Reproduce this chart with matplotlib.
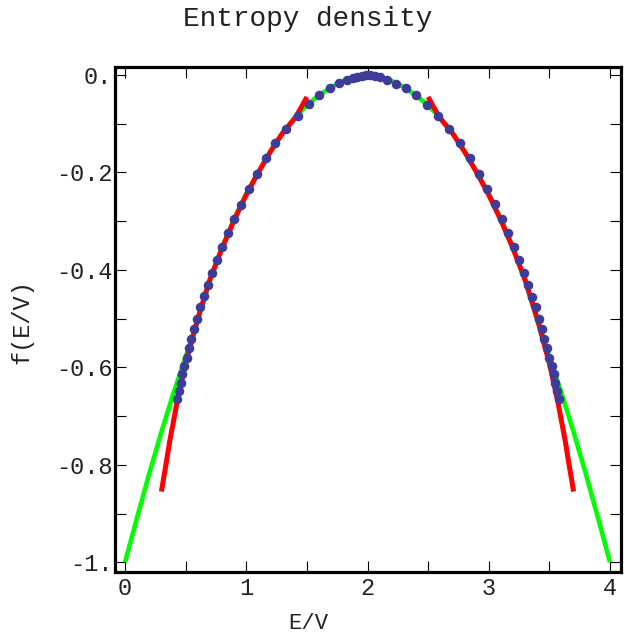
import matplotlib
matplotlib.use("Agg")
from matplotlib import pyplot as plt

# green curve
green_x = [0.0, 0.1, 0.2, 0.3, 0.4, 0.5, 0.6, 0.7, 0.8, 0.9, 1.0, 1.1, 1.2, 1.3, 1.4,
           1.5, 1.6, 1.7, 1.8, 1.9, 2.0, 2.1, 2.2, 2.3, 2.4, 2.5, 2.6, 2.7, 2.8, 2.9,
           3.0, 3.1, 3.2, 3.3, 3.4, 3.5, 3.6, 3.7, 3.8, 3.9, 4.0]
green_y = [-1.0, -0.908, -0.818, -0.733, -0.653, -0.578, -0.503, -0.423, -0.354, -0.296,
           -0.244, -0.199, -0.157, -0.119, -0.088, -0.062, -0.042, -0.025, -0.012, -0.004,
           0.0, -0.004, -0.012, -0.025, -0.042, -0.062, -0.088, -0.119, -0.157, -0.199,
           -0.244, -0.296, -0.354, -0.423, -0.503, -0.578, -0.653, -0.733, -0.818, -0.908, -1.0]

# red curve, two pieces
red_left_x = [0.30, 0.33, 0.37, 0.43, 0.5, 0.6, 0.7, 0.8, 0.9, 1.0, 1.1, 1.2, 1.3, 1.4, 1.45, 1.5]
red_left_y = [-0.855, -0.811, -0.750, -0.671, -0.592, -0.500, -0.420, -0.356, -0.298, -0.246,
              -0.200, -0.157, -0.119, -0.089, -0.068, -0.045]
red_right_x = [2.5, 2.55, 2.6, 2.7, 2.8, 2.9, 3.0, 3.1, 3.2, 3.3, 3.4, 3.5, 3.57, 3.63, 3.67, 3.70]
red_right_y = [-0.045, -0.068, -0.089, -0.119, -0.157, -0.200, -0.246, -0.298, -0.356, -0.420,
               -0.500, -0.592, -0.671, -0.750, -0.811, -0.855]

# data points
dots_x = [0.431, 0.445, 0.459, 0.473, 0.489, 0.509, 0.528, 0.547, 0.572, 0.596, 0.619,
          0.652, 0.685, 0.718, 0.756, 0.800, 0.847, 0.899, 0.957, 1.020, 1.091, 1.165,
          1.240, 1.328, 1.424, 1.520, 1.602, 1.691, 1.767, 1.828, 1.878, 1.916, 1.957,
          1.988, 2.021, 2.059, 2.103, 2.158, 2.235, 2.315, 2.398, 2.488, 2.584, 2.675,
          2.763, 2.843, 2.920, 2.988, 3.054, 3.107, 3.159, 3.208, 3.249, 3.291, 3.324,
          3.357, 3.387, 3.413, 3.437, 3.458, 3.480, 3.499, 3.519, 3.536, 3.549, 3.565, 3.579]
dots_y = [-0.665, -0.648, -0.632, -0.614, -0.598, -0.580, -0.561, -0.542, -0.522, -0.500,
          -0.477, -0.454, -0.431, -0.406, -0.380, -0.354, -0.325, -0.296, -0.266, -0.234,
          -0.203, -0.170, -0.140, -0.111, -0.084, -0.060, -0.041, -0.027, -0.017, -0.010,
          -0.006, -0.0035, -0.0014, -0.0006, -0.0006, -0.002, -0.0047, -0.0097, -0.018,
          -0.027, -0.042, -0.061, -0.084, -0.111, -0.140, -0.171, -0.203, -0.234, -0.265,
          -0.295, -0.324, -0.353, -0.380, -0.407, -0.431, -0.456, -0.477, -0.500, -0.521,
          -0.542, -0.561, -0.580, -0.598, -0.614, -0.632, -0.648, -0.665]

xticks = [0, 1, 2, 3, 4]
xtick_labels = ["0", "1", "2", "3", "4"]
yticks = [0, -0.2, -0.4, -0.6, -0.8, -1.0]
ytick_labels = ["0.", "-0.2", "-0.4", "-0.6", "-0.8", "-1."]

FONT = ["Liberation Mono", "DejaVu Sans Mono"]


def plot_entropy():
    plt.rcParams["font.family"] = FONT
    fig = plt.figure(figsize=(6.24, 6.35), dpi=100)
    ax = fig.add_axes([115 / 624, 1 - 571.5 / 635, 505.5 / 624, 504.8 / 635])

    ax.plot(green_x, green_y, color="#00ff00", lw=3.3, solid_capstyle="butt", zorder=2)
    ax.plot(red_left_x, red_left_y, color="#ff0000", lw=3.6, solid_capstyle="butt", zorder=3)
    ax.plot(red_right_x, red_right_y, color="#ff0000", lw=3.6, solid_capstyle="butt", zorder=3)
    ax.plot(dots_x, dots_y, "o", color="#3d3d99", ms=6.9, mec="none", zorder=4)

    ax.set_xlim(-0.0825, 4.0866)
    ax.set_ylim(-1.019, 0.017)

    ax.set_xticks(xticks)
    ax.set_xticklabels(xtick_labels)
    ax.set_xticks([0.5, 1.5, 2.5, 3.5], minor=True)
    ax.set_yticks(yticks)
    ax.set_yticklabels(ytick_labels)
    ax.set_yticks([-0.1, -0.3, -0.5, -0.7, -0.9], minor=True)

    for which in ("major", "minor"):
        ax.tick_params(axis="both", which=which, direction="in", length=8, width=0.8,
                       top=True, right=True, colors="black")
    ax.tick_params(axis="x", which="major", labelsize=17, pad=4)
    ax.tick_params(axis="y", which="major", labelsize=17, pad=2)
    for lab in ax.get_xticklabels() + ax.get_yticklabels():
        lab.set_color("#222222")

    for sp in ax.spines.values():
        sp.set_linewidth(2.3)

    fig.text(308 / 624, 1 - 26 / 635, "Entropy density", fontsize=20, ha="center",
             va="baseline", color="#222222")
    fig.text(308 / 624, 1 / 635, "E/V", fontsize=16, ha="center", va="bottom",
             color="#222222")
    fig.text(22 / 624, 1 - 322 / 635, "f(E/V)", fontsize=17, rotation=90, ha="center",
             va="center", color="#222222")

    fig.savefig("out.png", dpi=100)


def main():
    plot_entropy()


if __name__ == "__main__":
    main()
